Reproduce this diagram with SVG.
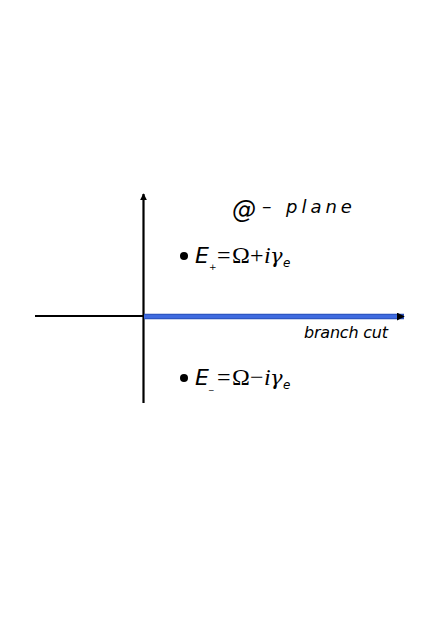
<svg xmlns="http://www.w3.org/2000/svg" width="436" height="617" viewBox="0 0 436 617">
<style>
.t{font-family:"DejaVu Sans","Liberation Sans",sans-serif;font-style:italic;fill:#000}
.m{font-family:"Liberation Serif","DejaVu Serif",serif;fill:#000}
.mi{font-family:"Liberation Serif","DejaVu Serif",serif;font-style:italic;fill:#000}
.g{font-family:"DejaVu Serif","Liberation Serif",serif;font-style:italic;fill:#000}
</style>
<defs>
<marker id="ah" viewBox="0 0 10 10" refX="9" refY="5" markerWidth="7" markerHeight="7" markerUnits="userSpaceOnUse" orient="auto"><path d="M0,0 L10,5 L0,10 z" fill="#000"/></marker>
<marker id="ah2" viewBox="0 0 10 10" refX="9" refY="5" markerWidth="8" markerHeight="8" markerUnits="userSpaceOnUse" orient="auto"><path d="M0,0 L10,5 L0,10 z" fill="#000"/></marker>
</defs>
<rect width="436" height="617" fill="#fff"/>
<g id="connectors">
<line x1="35" y1="316" x2="143.5" y2="316" stroke="#000" stroke-width="2.2"/>
<line x1="143.5" y1="403" x2="143.5" y2="194" stroke="#000" stroke-width="2.2" marker-end="url(#ah)"/>
<line x1="144" y1="316.5" x2="404" y2="316.5" stroke="#2a4fb8" stroke-width="5.5" marker-end="url(#ah2)"/>
<line x1="144" y1="316.5" x2="397" y2="316.5" stroke="#3f6be0" stroke-width="3.5"/>
</g>
<g id="plane-label">
<text class="t" x="232" y="218" font-size="24" font-style="normal">@</text>
<text class="t" x="262" y="213" font-size="19">–</text>
<text class="t" x="286" y="213" font-size="18" letter-spacing="4">plane</text>
</g>
<g id="E-plus">
<circle cx="184" cy="256" r="4" fill="#000"/>
<text class="t" x="195" y="263" font-size="22">E</text>
<text class="t" x="209" y="270" font-size="9" font-style="normal">+</text>
<text class="m" x="217" y="263" font-size="24">=</text>
<text class="m" x="232" y="263" font-size="24">Ω</text>
<text class="m" x="250" y="263" font-size="24">+</text>
<text class="mi" x="264" y="263" font-size="24">i</text>
<text class="g" x="270" y="263" font-size="21">γ</text>
<text class="t" x="283" y="267" font-size="12">e</text>
</g>
<g id="E-minus">
<circle cx="184" cy="378" r="4" fill="#000"/>
<text class="t" x="195" y="385" font-size="22">E</text>
<text class="t" x="209" y="389" font-size="9" font-style="normal">_</text>
<text class="m" x="217" y="385" font-size="24">=</text>
<text class="m" x="232" y="385" font-size="24">Ω</text>
<text class="m" x="250" y="385" font-size="24">−</text>
<text class="mi" x="264" y="385" font-size="24">i</text>
<text class="g" x="270" y="385" font-size="21">γ</text>
<text class="t" x="283" y="389" font-size="12">e</text>
</g>
<g id="branch-cut">
<text class="t" x="304" y="338" font-size="16" textLength="84">branch  cut</text>
</g>
</svg>
